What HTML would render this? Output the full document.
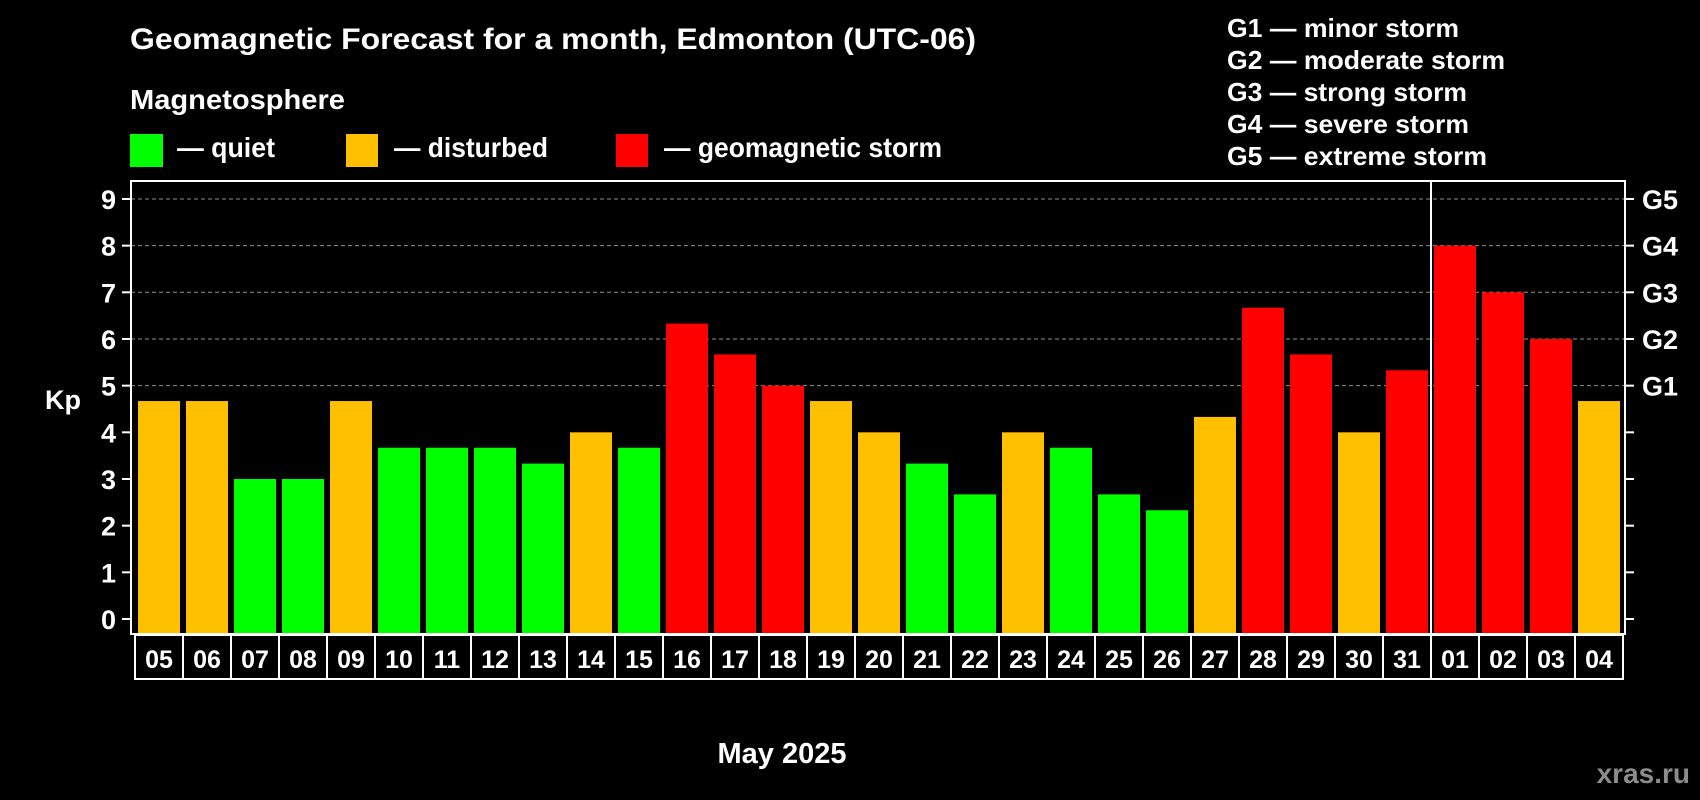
<!DOCTYPE html>
<html><head><meta charset="utf-8"><style>
html,body{margin:0;padding:0;background:#000;}
svg{display:block;font-family:"Liberation Sans",sans-serif;font-weight:bold;}
</style></head><body>
<svg width="1700" height="800" viewBox="0 0 1700 800">
<rect x="0" y="0" width="1700" height="800" fill="#000"/>
<text x="130" y="49" fill="#fff" font-size="30" textLength="846" lengthAdjust="spacingAndGlyphs">Geomagnetic Forecast for a month, Edmonton (UTC-06)</text>
<text x="130" y="109" fill="#fff" font-size="28" textLength="215" lengthAdjust="spacingAndGlyphs">Magnetosphere</text>
<g><rect x="130" y="134" width="33" height="33" fill="#00ff00"/><text x="177" y="157" fill="#fff" font-size="28" textLength="98" lengthAdjust="spacingAndGlyphs">— quiet</text></g>
<g><rect x="346" y="134" width="32" height="33" fill="#ffc000"/><text x="394" y="157" fill="#fff" font-size="28" textLength="154" lengthAdjust="spacingAndGlyphs">— disturbed</text></g>
<g><rect x="616" y="134" width="32" height="33" fill="#ff0000"/><text x="664" y="157" fill="#fff" font-size="28" textLength="278" lengthAdjust="spacingAndGlyphs">— geomagnetic storm</text></g>
<g fill="#fff" font-size="26">
<text x="1227" y="37" textLength="232" lengthAdjust="spacingAndGlyphs">G1 — minor storm</text>
<text x="1227" y="69" textLength="278" lengthAdjust="spacingAndGlyphs">G2 — moderate storm</text>
<text x="1227" y="101" textLength="240" lengthAdjust="spacingAndGlyphs">G3 — strong storm</text>
<text x="1227" y="133" textLength="242" lengthAdjust="spacingAndGlyphs">G4 — severe storm</text>
<text x="1227" y="165" textLength="260" lengthAdjust="spacingAndGlyphs">G5 — extreme storm</text>
</g>
<g id="grid"></g>
<g id="bars"></g>
<g id="axes"></g>
<text x="63" y="409" fill="#fff" font-size="27" text-anchor="middle">Kp</text>
<text x="782" y="763" fill="#fff" font-size="29" text-anchor="middle">May 2025</text>
<text x="1690" y="783" fill="#8c8c8c" font-size="28" text-anchor="end">xras.ru</text>
</svg>
<script>
const days = ["05","06","07","08","09","10","11","12","13","14","15","16","17","18","19","20","21","22","23","24","25","26","27","28","29","30","31","01","02","03","04"];
const kpValues = [4.67,4.67,3,3,4.67,3.67,3.67,3.67,3.33,4,3.67,6.33,5.67,5,4.67,4,3.33,2.67,4,3.67,2.67,2.33,4.33,6.67,5.67,4,5.33,8,7,6,4.67];
const yTicks = [0,1,2,3,4,5,6,7,8,9];
const gLabels = ["","","","","","G1","G2","G3","G4","G5"];
const monthBreakIndex = 27;

const NS = "http://www.w3.org/2000/svg";
const plotL = 131, plotR = 1625, plotT = 181, plotB = 634;
const slot = 48, barW = 42, barX0 = 138;
function y(v){ return 619 - v * 46.67; }
function x(i){ return barX0 + i * slot; }
function mk(tag, attrs, parent){ const e = document.createElementNS(NS, tag); for (const k in attrs) e.setAttribute(k, attrs[k]); parent.appendChild(e); return e; }
function color(v){ return v >= 5 ? "#ff0000" : (v >= 4 ? "#ffc000" : "#00ff00"); }

const grid = document.getElementById("grid");
const bars = document.getElementById("bars");
const axes = document.getElementById("axes");

yTicks.forEach((t, i) => {
  if (t >= 5) {
    const g = mk("line", {x1: plotL, x2: plotR, y1: y(t), y2: y(t), stroke: "#909090", "stroke-width": 1, "stroke-dasharray": "4,3"}, grid);
    
    
  }
  const tl = mk("line", {x1: 122, x2: plotL, y1: y(t), y2: y(t), stroke: "#fff", "stroke-width": 2}, axes);
  
  
  const tr = mk("line", {x1: plotR, x2: plotR + 9, y1: y(t), y2: y(t), stroke: "#fff", "stroke-width": 2}, axes);
  
  
  const lb = mk("text", {x: 116, y: y(t) + 10, fill: "#fff", "font-size": 27, "text-anchor": "end"}, axes);
  lb.textContent = t;
  
  
  if (gLabels[i]) {
    const gl = mk("text", {x: 1642, y: y(t) + 10, fill: "#fff", "font-size": 27}, axes);
    gl.textContent = gLabels[i];
    
    
  }
});

kpValues.forEach((v, i) => {
  const b = mk("rect", {x: x(i), y: y(v), width: barW, height: 619 - y(v) + 15, fill: color(v)}, bars);
  
  
});

const frame = mk("rect", {x: plotL, y: plotT, width: plotR - plotL, height: plotB - plotT, fill: "none", stroke: "#fff", "stroke-width": 2}, axes);



const cellL = 135, cellT = 635, cellB = 679;
const cellBox = mk("rect", {x: cellL, y: cellT, width: days.length * slot, height: cellB - cellT, fill: "none", stroke: "#fff", "stroke-width": 2}, axes);


days.forEach((d, i) => {
  if (i > 0) {
    const l = mk("line", {x1: cellL + i * slot, x2: cellL + i * slot, y1: cellT, y2: cellB, stroke: "#fff", "stroke-width": 2}, axes);
    
    
  }
  const t = mk("text", {x: cellL + i * slot + slot / 2, y: 668, fill: "#fff", "font-size": 25, "text-anchor": "middle"}, axes);
  t.textContent = d;
  
  
});
const sepX = x(monthBreakIndex) - 3;
const sep = mk("line", {x1: sepX, x2: sepX, y1: plotT, y2: cellB, stroke: "#fff", "stroke-width": 2}, axes);


</script>
</body></html>
